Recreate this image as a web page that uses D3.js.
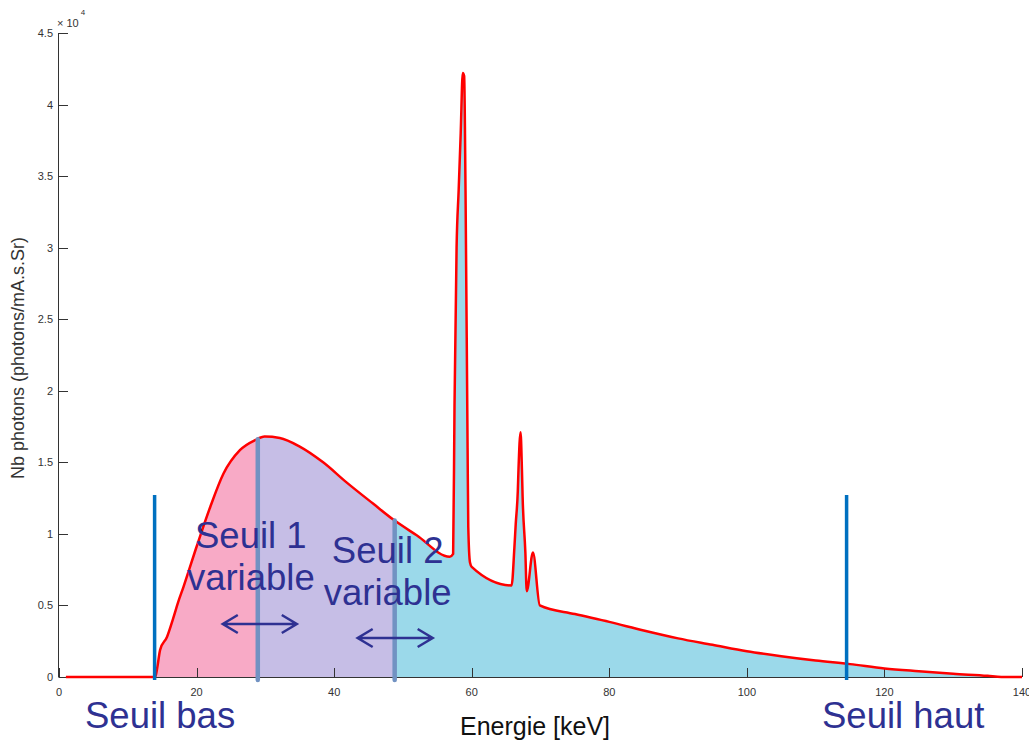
<!DOCTYPE html>
<html>
<head>
<meta charset="utf-8">
<script src="https://cdn.jsdelivr.net/npm/d3@7"></script>
<style>
  html, body { margin: 0; padding: 0; background: #fff; }
  svg { display: block; font-family: "Liberation Sans", Arial, sans-serif; }
</style>
</head>
<body>
<svg id="chart" width="1029" height="742"></svg>
<script>
// ---- data (counts in units of 10^4 photons/mA.s.Sr) ----
const energy = [1, 14.0, 14.3, 14.7, 15.7, 16.6, 17.3, 18.1, 20.0, 22.0, 23.9, 26.3, 28.5, 29.9, 32.1, 35.0, 38.4, 41.8, 45.7, 48.6, 52.0, 56.8,
  57.3, 57.5, 57.8, 58.1, 58.4, 58.7, 58.9, 59.1, 59.4, 59.5, 59.75, 60.0,
  65.8, 66.2, 66.4, 66.7, 66.8, 67.1, 67.3, 67.4, 67.8, 68.0, 68.9, 69.9,
  75, 80, 85, 90, 95, 100, 105, 110, 115, 120, 125, 130, 135, 137, 140];
const counts = [0, 0, 0.07, 0.19, 0.28, 0.41, 0.52, 0.63, 0.91, 1.19, 1.42, 1.585, 1.655, 1.68, 1.67, 1.61, 1.50, 1.36, 1.21, 1.10, 0.99, 0.84,
  0.86, 1.9, 3.0, 3.4, 3.8, 4.22, 4.2, 3.4, 1.6, 1.05, 0.80, 0.77,
  0.64, 0.9, 1.07, 1.3, 1.45, 1.71, 1.45, 1.26, 0.87, 0.6, 0.87, 0.50,
  0.44, 0.385, 0.325, 0.27, 0.225, 0.18, 0.145, 0.115, 0.09, 0.06, 0.04, 0.022, 0.008, 0.0, 0.0];

const xTicks = [0, 20, 40, 60, 80, 100, 120, 140];
const yTicks = [0, 0.5, 1, 1.5, 2, 2.5, 3, 3.5, 4, 4.5];
const yTickLabels = ["0", "0.5", "1", "1.5", "2", "2.5", "3", "3.5", "4", "4.5"];

const thresholdBas = 13.9, thresholdHaut = 114.5;
const seuil1 = 28.9, seuil2 = 48.8;
const bandEdges = [13.9, 28.9, 48.8, 140];
const bandColors = ["#f8aac6", "#c6bee6", "#9bd9ea"];

const xLabel = "Energie [keV]";
const yLabel = "Nb photons (photons/mA.s.Sr)";
const labelBas = "Seuil bas", labelHaut = "Seuil haut";
const label1 = ["Seuil 1", "variable"], label2 = ["Seuil 2", "variable"];

// ---- layout ----
const svg = d3.select("#chart");
const x = d3.scaleLinear().domain([0, 140]).range([59, 1022]);
const y = d3.scaleLinear().domain([0, 4.5]).range([677, 33]);
const pts = energy.map((e, i) => [e, counts[i]]);
const interp = e => {
  for (let i = 1; i < pts.length; i++) {
    if (e <= pts[i][0]) {
      const [e0, c0] = pts[i - 1], [e1, c1] = pts[i];
      return c0 + (c1 - c0) * (e - e0) / (e1 - e0);
    }
  }
  return 0;
};

const textColor = "#2e3192";
const seuilBlue = "#0070c0";
const seuilVar = "#7192c2";
const curve = d3.curveMonotoneX;

const area = d3.area().curve(curve).x(d => x(d[0])).y0(y(0)).y1(d => y(d[1]));
const defs = svg.append("defs");
bandColors.forEach((c, i) => {
  defs.append("clipPath").attr("id", "band" + i)
    .append("rect")
    .attr("x", x(bandEdges[i])).attr("y", 0)
    .attr("width", x(bandEdges[i + 1]) - x(bandEdges[i])).attr("height", y(0) - 0);
  svg.append("path").datum(pts).attr("d", area)
    .attr("fill", c).attr("clip-path", `url(#band${i})`);
});

// axes
const ax = svg.append("g").attr("fill", "none").attr("stroke", "#333").attr("stroke-width", 1);
ax.append("line").attr("x1", x(0)).attr("x2", x(140)).attr("y1", y(0) + 0.5).attr("y2", y(0) + 0.5);
ax.append("line").attr("x1", x(0) - 0.5).attr("x2", x(0) - 0.5).attr("y1", y(4.5)).attr("y2", y(0) + 0.5);
xTicks.forEach(t => {
  ax.append("line").attr("x1", Math.round(x(t)) + 0.5).attr("x2", Math.round(x(t)) + 0.5)
    .attr("y1", y(0)).attr("y2", y(0) - 9);
  svg.append("text").attr("x", x(t)).attr("y", y(0) + 19).attr("text-anchor", "middle")
    .attr("font-size", 11).attr("fill", "#333").text(t);
});
yTicks.forEach((t, i) => {
  ax.append("line").attr("x1", x(0)).attr("x2", x(0) + 9)
    .attr("y1", Math.round(y(t)) + 0.5).attr("y2", Math.round(y(t)) + 0.5);
  svg.append("text").attr("x", x(0) - 6).attr("y", y(t) + 4).attr("text-anchor", "end")
    .attr("font-size", 11).attr("fill", "#333").text(yTickLabels[i]);
});
const mult = svg.append("text").attr("x", 57).attr("y", 27).attr("font-size", 11).attr("fill", "#333");
mult.append("tspan").text("\u00d7 10");
mult.append("tspan").attr("dx", 2).attr("dy", -12).attr("font-size", 8).text("4");

// red spectrum line
svg.append("path").datum(pts)
  .attr("d", d3.line().curve(curve).x(d => x(d[0])).y(d => y(d[1])))
  .attr("fill", "none").attr("stroke", "#ff0000").attr("stroke-width", 2.5)
  .attr("stroke-linejoin", "round");

// threshold lines
[thresholdBas, thresholdHaut].forEach(t => {
  svg.append("line").attr("x1", x(t)).attr("x2", x(t)).attr("y1", 495).attr("y2", y(0) + 3)
    .attr("stroke", seuilBlue).attr("stroke-width", 3.5);
});
[seuil1, seuil2].forEach(t => {
  svg.append("line").attr("x1", x(t)).attr("x2", x(t)).attr("y1", y(interp(t)))
    .attr("y2", y(0) + 3)
    .attr("stroke", seuilVar).attr("stroke-width", 4.5).attr("stroke-linecap", "round");
});

// annotation texts
function label(lines, cx, y0) {
  lines.forEach((l, i) => {
    svg.append("text").attr("x", cx).attr("y", y0 + i * 42).attr("text-anchor", "middle")
      .attr("font-size", 36.5).attr("fill", textColor).text(l);
  });
}
label(label1, x(seuil1) - 7, 548);
label(label2, x(seuil2) - 7, 563);
svg.append("text").attr("x", 85).attr("y", 728).attr("font-size", 36.5).attr("fill", textColor).text(labelBas);
svg.append("text").attr("x", 822).attr("y", 728).attr("font-size", 36.5).attr("fill", textColor).text(labelHaut);

// arrows
function arrow(x1, x2, yy) {
  const h = 15, w = 9;
  svg.append("path")
    .attr("d", `M${x1},${yy}L${x2},${yy}M${x1 + h},${yy - w}L${x1},${yy}L${x1 + h},${yy + w}M${x2 - h},${yy - w}L${x2},${yy}L${x2 - h},${yy + w}`)
    .attr("fill", "none").attr("stroke", textColor).attr("stroke-width", 2.5)
    .attr("stroke-linejoin", "miter");
}
arrow(x(seuil1) - 35, x(seuil1) + 39, 624);
arrow(x(seuil2) - 37, x(seuil2) + 38, 638);

// axis labels
svg.append("text").attr("x", 535).attr("y", 735).attr("text-anchor", "middle")
  .attr("font-size", 25).attr("fill", "#111").text(xLabel);
svg.append("text").attr("transform", "translate(24,358) rotate(-90)").attr("text-anchor", "middle")
  .attr("font-size", 18).attr("fill", "#333").text(yLabel);
</script>
</body>
</html>
